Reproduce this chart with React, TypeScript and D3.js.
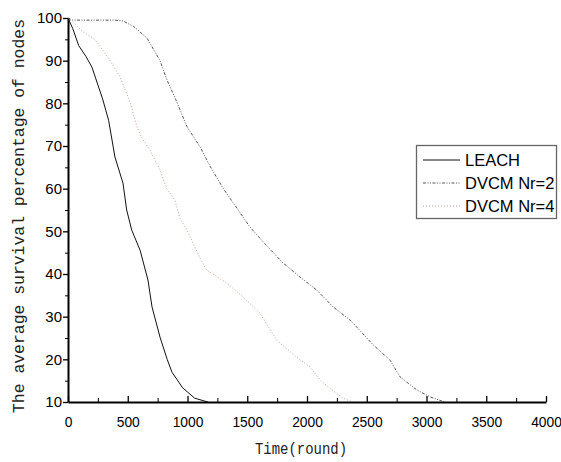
import React, { useEffect, useRef } from 'react';
import * as d3 from 'd3';

// rounds vs. survival %
const leachT = [0, 40, 90, 150, 200, 290, 340, 393, 460, 491, 533, 603, 669, 703, 770, 830, 870, 960, 1060, 1170];
const leachV = [100, 97.5, 93.5, 91, 88.5, 81, 76, 67.4, 61.3, 55, 50.3, 45.6, 38.6, 32.3, 25.2, 20, 17, 13.3, 10.9, 10];

const nr2T = [0, 40, 400, 460, 550, 661, 770, 828, 900, 996, 1105, 1188, 1300, 1523, 1650, 1799, 1941, 2083, 2218, 2360, 2418, 2550, 2695, 2778, 2920, 3030, 3150];
const nr2V = [100, 99.5, 99.5, 99.3, 98, 95.3, 90, 85.5, 81, 74.5, 69.8, 65.3, 60, 51, 47, 42.6, 39.3, 36.2, 32.3, 29.2, 27.5, 23.5, 19.8, 15.9, 12.8, 11.2, 10];

const nr4T = [0, 60, 128, 209, 240, 351, 435, 519, 577, 616, 686, 770, 826, 895, 937, 996, 1105, 1160, 1328, 1465, 1607, 1746, 1913, 2025, 2109, 2200, 2301, 2380];
const nr4V = [100, 98.5, 96.7, 95.3, 94.4, 90.1, 86.2, 80.3, 74.5, 72, 69, 64.4, 60, 57.3, 53, 50.3, 43.7, 40.9, 37.9, 34.6, 30.8, 24.5, 20.5, 18.2, 15.2, 13, 10.9, 10];

const seriesNames = ['LEACH', 'DVCM Nr=2', 'DVCM Nr=4'];
const xTicks = [0, 500, 1000, 1500, 2000, 2500, 3000, 3500, 4000];
const yTicks = [10, 20, 30, 40, 50, 60, 70, 80, 90, 100];

function App() {
  const ref = useRef<SVGSVGElement>(null);

  useEffect(() => {
    const svg = d3.select(ref.current);
    svg.selectAll('*').remove();

    const left = 68, right = 546, top = 18, bottom = 402;

    const x = d3.scaleLinear().domain([0, 4000]).range([left, right]);
    const y = d3.scaleLinear().domain([10, 100]).range([bottom, top]);

    const styles = [
      { stroke: '#111', dash: null, width: 1 },
      { stroke: '#555', dash: '3,1.5,1,1.5,1,1.5', width: 1 },
      { stroke: '#c89a9a', dash: '1,2', width: 1 },
    ];

    const data = [
      leachT.map((t, i) => [t, leachV[i]]),
      nr2T.map((t, i) => [t, nr2V[i]]),
      nr4T.map((t, i) => [t, nr4V[i]]),
    ];

    const line = d3.line<number[]>()
      .x(d => x(d[0]))
      .y(d => y(d[1]));

    // curves
    data.forEach((d, i) => {
      svg.append('path')
        .attr('d', line(d))
        .attr('fill', 'none')
        .attr('stroke', styles[i].stroke)
        .attr('stroke-width', styles[i].width)
        .attr('stroke-dasharray', styles[i].dash);
    });

    const tickFont = '"Liberation Sans", Arial, sans-serif';

    // minor ticks
    svg.append('g')
      .attr('transform', `translate(${left},0)`)
      .call(d3.axisLeft(y).tickValues(d3.range(15, 100, 10)).tickSize(3).tickFormat(() => ''))
      .call(g => g.select('.domain').remove());
    svg.append('g')
      .attr('transform', `translate(0,${bottom})`)
      .call(d3.axisBottom(x).tickValues(d3.range(250, 4000, 500)).tickSize(-4).tickFormat(() => ''))
      .call(g => g.select('.domain').remove());

    // main axes
    svg.append('g')
      .attr('transform', `translate(${left},0)`)
      .call(d3.axisLeft(y).tickValues(yTicks).tickSize(5).tickPadding(1).tickSizeOuter(0).tickFormat(d3.format('d')))
      .call(g => g.select('.domain').attr('stroke-width', 2))
      .call(g => g.selectAll('.tick line').attr('stroke-width', 1.3))
      .call(g => g.selectAll('text').attr('font-size', 15).attr('font-family', tickFont).attr('fill', '#000'));

    svg.append('g')
      .attr('transform', `translate(0,${bottom})`)
      .call(d3.axisBottom(x).tickValues(xTicks).tickSize(-6).tickPadding(15).tickSizeOuter(0).tickFormat(d3.format('d')))
      .call(g => g.select('.domain').attr('stroke-width', 2))
      .call(g => g.selectAll('.tick line').attr('stroke-width', 1.3))
      .call(g => g.selectAll('text').attr('font-size', 13.8).attr('font-family', tickFont).attr('fill', '#000'));

    // axis titles
    const monoFont = '"Liberation Mono", "DejaVu Sans Mono", monospace';
    svg.append('text')
      .attr('x', 301)
      .attr('y', 454)
      .attr('text-anchor', 'middle')
      .attr('font-family', monoFont)
      .attr('font-size', 16)
      .attr('fill', '#222')
      .attr('textLength', 92)
      .attr('lengthAdjust', 'spacingAndGlyphs')
      .text('Time(round)');

    svg.append('text')
      .attr('transform', 'translate(24,216) rotate(-90)')
      .attr('text-anchor', 'middle')
      .attr('font-family', monoFont)
      .attr('font-size', 16)
      .attr('fill', '#222')
      .attr('textLength', 394)
      .attr('lengthAdjust', 'spacingAndGlyphs')
      .text('The average survival percentage of nodes');

    // legend
    const lg = svg.append('g');
    lg.append('rect')
      .attr('x', 416.5)
      .attr('y', 145.5)
      .attr('width', 140)
      .attr('height', 73)
      .attr('fill', '#fff')
      .attr('stroke', '#666')
      .attr('stroke-width', 1.3);
    seriesNames.forEach((name, i) => {
      const ly = 160 + i * 23;
      lg.append('line')
        .attr('x1', 423).attr('x2', 460)
        .attr('y1', ly).attr('y2', ly)
        .attr('stroke', styles[i].stroke)
        .attr('stroke-width', 1)
        .attr('stroke-dasharray', styles[i].dash);
      lg.append('text')
        .attr('x', 465)
        .attr('y', ly + 6)
        .attr('font-family', tickFont)
        .attr('font-size', 16.5)
        .attr('fill', '#000')
        .text(name);
    });
  }, []);

  return (
    <svg ref={ref} width={561} height={462}
      style={{ position: 'absolute', left: 0, top: 0, background: '#fff' }} />
  );
}

export default App;
